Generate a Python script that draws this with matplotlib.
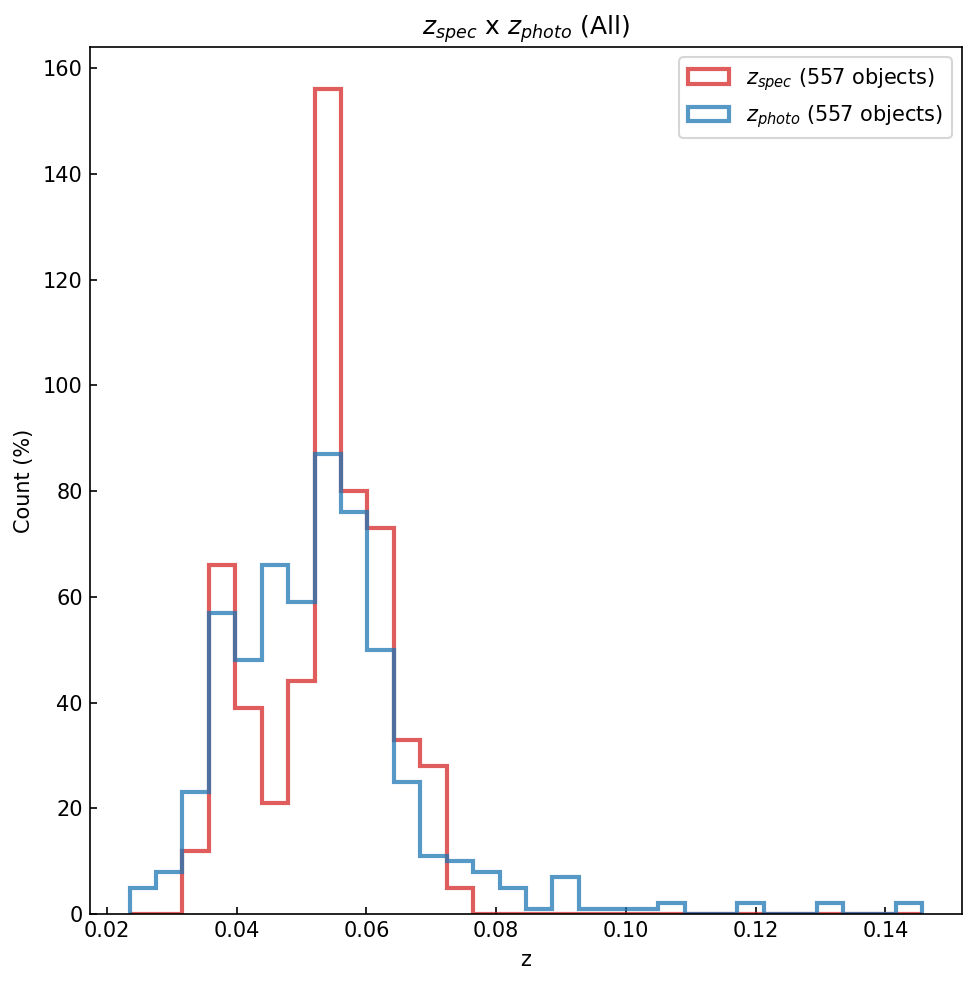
import numpy as np
import matplotlib
matplotlib.use("Agg")
import matplotlib.pyplot as plt

z_min, z_max, n_bins = 0.0235, 0.1457, 30
spec_counts = [0, 0, 12, 66, 39, 21, 44, 156, 80, 73, 33, 28, 5, 0, 0,
               0, 0, 0, 0, 0, 0, 0, 0, 0, 0, 0, 0, 0, 0, 0]
photo_counts = [5, 8, 23, 57, 48, 66, 59, 87, 76, 50, 25, 11, 10, 8, 5,
                1, 7, 1, 1, 1, 2, 0, 0, 2, 0, 0, 2, 0, 0, 2]
labels = [r"$z_{spec}$ (557 objects)", r"$z_{photo}$ (557 objects)"]

edges = np.linspace(z_min, z_max, n_bins + 1)
centers = 0.5 * (edges[:-1] + edges[1:])

fig = plt.figure(figsize=(977 / 150, 985 / 150), dpi=150)
ax = fig.add_axes([90 / 977, 1 - 914 / 985, 872 / 977, 867 / 985])

ax.hist(centers, bins=edges, weights=spec_counts, histtype="step",
        color="tab:red", alpha=0.75, linewidth=2, label=labels[0])
ax.hist(centers, bins=edges, weights=photo_counts, histtype="step",
        color="tab:blue", alpha=0.75, linewidth=2, label=labels[1])

ax.set_ylim(0, 164)
ax.set_xticks([0.02, 0.04, 0.06, 0.08, 0.10, 0.12, 0.14])
ax.tick_params(direction="in")
ax.set_xlabel("z")
ax.set_ylabel("Count (%)")
ax.set_title(r"$z_{spec}$ x $z_{photo}$ (All)")
ax.legend(loc="upper right")

fig.savefig("out.png", dpi=150)
